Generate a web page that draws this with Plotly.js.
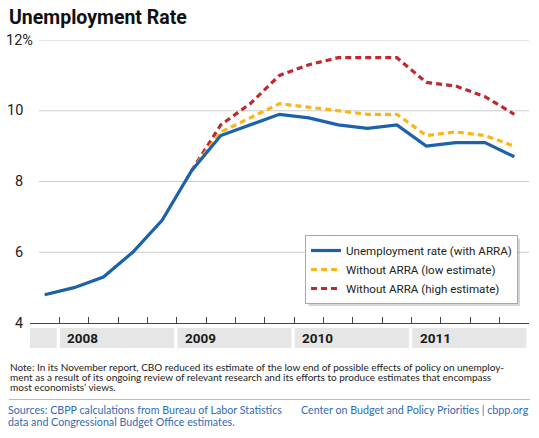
<!DOCTYPE html>
<html>
<head>
<meta charset="utf-8">
<script src="https://cdn.plot.ly/plotly-3.0.1.min.js"></script>
<style>
  html, body { margin: 0; padding: 0; background: #fff; }
  #chart { width: 539px; height: 438px; }
</style>
</head>
<body>
<div id="chart"></div>
<script>
// Quarterly unemployment rate, 2007 Q4 through 2011 Q4
const quarters = ['2007 Q4',
  '2008 Q1', '2008 Q2', '2008 Q3', '2008 Q4',
  '2009 Q1', '2009 Q2', '2009 Q3', '2009 Q4',
  '2010 Q1', '2010 Q2', '2010 Q3', '2010 Q4',
  '2011 Q1', '2011 Q2', '2011 Q3', '2011 Q4'];

const withArra = [4.8, 5.0, 5.3, 6.0, 6.9, 8.3, 9.3, 9.6, 9.9, 9.8, 9.6, 9.5, 9.6, 9.0, 9.1, 9.1, 8.7];
const withoutLow = [null, null, null, null, null, 8.3, 9.4, 9.8, 10.2, 10.1, 10.0, 9.9, 9.9, 9.3, 9.4, 9.3, 9.0];
const withoutHigh = [null, null, null, null, null, 8.3, 9.6, 10.2, 11.0, 11.3, 11.5, 11.5, 11.5, 10.8, 10.7, 10.4, 9.9];

const seriesNames = ['Unemployment rate (with ARRA)', 'Without ARRA (low estimate)', 'Without ARRA (high estimate)'];
const years = ['2008', '2009', '2010', '2011'];
const yTicks = [4, 6, 8, 10, 12];

const noteLines = [
  'Note: In its November report, CBO reduced its estimate of the low end of possible effects of policy on unemploy-',
  'ment as a result of its ongoing review of relevant research and its efforts to produce estimates that encompass',
  'most economists\u2019 views.'
];
const sourceLines = [
  'Sources: CBPP calculations from Bureau of Labor Statistics',
  'data and Congressional Budget Office estimates.'
];
const creditText = 'Center on Budget and Policy Priorities | cbpp.org';

// Page geometry (pixels)
const W = 539, H = 438;
const M = { l: 30, r: 10, t: 40, b: 115, autoexpand: false };
const plotW = W - M.l - M.r, plotH = H - M.t - M.b;
const px = p => (p - M.l) / plotW;           // pixel x -> paper x
const py = p => (H - M.b - p) / plotH;       // pixel y -> paper y

const NARROW = 'Roboto, sans-serif';
const BODY = 'Lato, sans-serif';

const BLUE = '#1b62aa', GOLD = '#fdb515', RED = '#bf2a30';

// Drawn back to front so the actual rate sits on top
const traces = [
  { x: quarters, y: withoutHigh, name: seriesNames[2], mode: 'lines',
    line: { color: RED, width: 3.2, dash: '6px,4px' }, connectgaps: false, hoverinfo: 'skip' },
  { x: quarters, y: withoutLow, name: seriesNames[1], mode: 'lines',
    line: { color: GOLD, width: 3.2, dash: '6px,4px' }, connectgaps: false, hoverinfo: 'skip' },
  { x: quarters, y: withArra, name: seriesNames[0], mode: 'lines',
    line: { color: BLUE, width: 3.2 }, hoverinfo: 'skip' }
];

const shapes = [];
const annotations = [];

// Horizontal gridlines, starting just right of the tick labels
yTicks.filter(v => v > yTicks[0]).forEach(v => {
  shapes.push({ type: 'line', xref: 'paper', yref: 'y', x0: px(39), x1: 1, y0: v, y1: v,
    line: { color: '#cccccc', width: 1 }, layer: 'below' });
});

// Y tick labels; the top one carries the percent sign
yTicks.forEach((v, i) => {
  const top = i === yTicks.length - 1;
  annotations.push({ xref: 'paper', yref: 'y', x: px(25), y: v, xanchor: 'right', yanchor: 'middle',
    text: top ? v + '%' : String(v), xshift: top ? 10 : 0, showarrow: false,
    font: { family: NARROW, size: 14.5, color: '#222' } });
});

// Year bands beneath the axis
const bandTop = py(328), bandBot = py(348);
shapes.push({ type: 'rect', xref: 'x', yref: 'paper', x0: -0.5, x1: 0.5 - 0.09, y0: bandBot, y1: bandTop,
  fillcolor: '#e6e6e6', line: { width: 0 }, layer: 'below' });
years.forEach(yr => {
  const first = quarters.indexOf(yr + ' Q1');
  const last = quarters.indexOf(yr + ' Q4');
  shapes.push({ type: 'rect', xref: 'x', yref: 'paper', x0: first - 0.5 + 0.02, x1: last + 0.5 - 0.09,
    y0: bandBot, y1: bandTop, fillcolor: '#e6e6e6', line: { width: 0 }, layer: 'below' });
  annotations.push({ xref: 'x', yref: 'paper', x: first - 0.5, y: (bandTop + bandBot) / 2,
    xanchor: 'left', yanchor: 'middle', xshift: 6, text: '<b>' + yr + '</b>', showarrow: false,
    font: { family: NARROW, size: 13.5, color: '#1a1a1a' } });
});

// Note lines
noteLines.forEach((t, i) => {
  annotations.push({ xref: 'paper', yref: 'paper', x: px(8), y: py(367 + i * 10), xanchor: 'left', yanchor: 'middle',
    text: t, showarrow: false, font: { family: BODY, size: 10, color: '#222' } });
});

// Divider above the sources
shapes.push({ type: 'line', xref: 'paper', yref: 'paper', x0: px(9), x1: px(530), y0: py(399.5), y1: py(399.5),
  line: { color: '#bdbdbd', width: 1 } });

// Sources and credit
sourceLines.forEach((t, i) => {
  annotations.push({ xref: 'paper', yref: 'paper', x: px(6), y: py(409.5 + i * 11.5), xanchor: 'left', yanchor: 'middle',
    text: t, showarrow: false, font: { family: BODY, size: 10.7, color: '#2f6cb3' } });
});
annotations.push({ xref: 'paper', yref: 'paper', x: px(531), y: py(409.5), xanchor: 'right', yanchor: 'middle',
  text: creditText, showarrow: false,
  font: { family: BODY, size: 10.7, color: '#2f6cb3' } });

const layout = {
  width: W, height: H,
  margin: M,
  paper_bgcolor: '#fff', plot_bgcolor: 'rgba(0,0,0,0)',
  showlegend: true,
  title: { text: '<b>Unemployment Rate</b>', xref: 'container', yref: 'container',
    x: 9 / W, xanchor: 'left', y: 1 - 17 / H, yanchor: 'middle',
    font: { family: NARROW, size: 19.5, color: '#111' } },
  xaxis: {
    type: 'category', range: [-0.5, quarters.length - 0.5],
    tickson: 'boundaries', ticks: 'inside', ticklen: 6, tickwidth: 1, tickcolor: '#444',
    showticklabels: false, showgrid: false, zeroline: false,
    showline: true, linecolor: '#444', linewidth: 1, fixedrange: true
  },
  yaxis: {
    range: [4, 12], tickvals: yTicks, showticklabels: false, ticks: '',
    showgrid: false, zeroline: false, showline: false, fixedrange: true
  },
  legend: {
    x: px(305), y: py(235), xanchor: 'left', yanchor: 'top',
    traceorder: 'reversed', bgcolor: '#fff', bordercolor: '#a8a8a8', borderwidth: 1,
    font: { family: NARROW, size: 11.6, color: '#222' }
  },
  shapes: shapes,
  annotations: annotations
};

Plotly.newPlot('chart', traces, layout, { displayModeBar: false, staticPlot: true }).then(gd => {
  // Soft drop shadow: a grey box offset down-right from the legend's own frame
  const bg = gd.querySelector('.legend .bg');
  if (!bg) return;
  const host = gd.getBoundingClientRect();
  const r = bg.getBoundingClientRect();
  const x0 = r.left - host.left + 3, x1 = r.right - host.left + 2.5;
  const y0 = r.top - host.top + 3, y1 = r.bottom - host.top + 2.5;
  const shadow = { type: 'rect', xref: 'paper', yref: 'paper', x0: px(x0), x1: px(x1), y0: py(y1), y1: py(y0),
    fillcolor: 'rgba(0,0,0,0.16)', line: { width: 0 }, layer: 'above' };
  return Plotly.relayout(gd, { shapes: shapes.concat([shadow]) });
});
</script>
</body>
</html>
